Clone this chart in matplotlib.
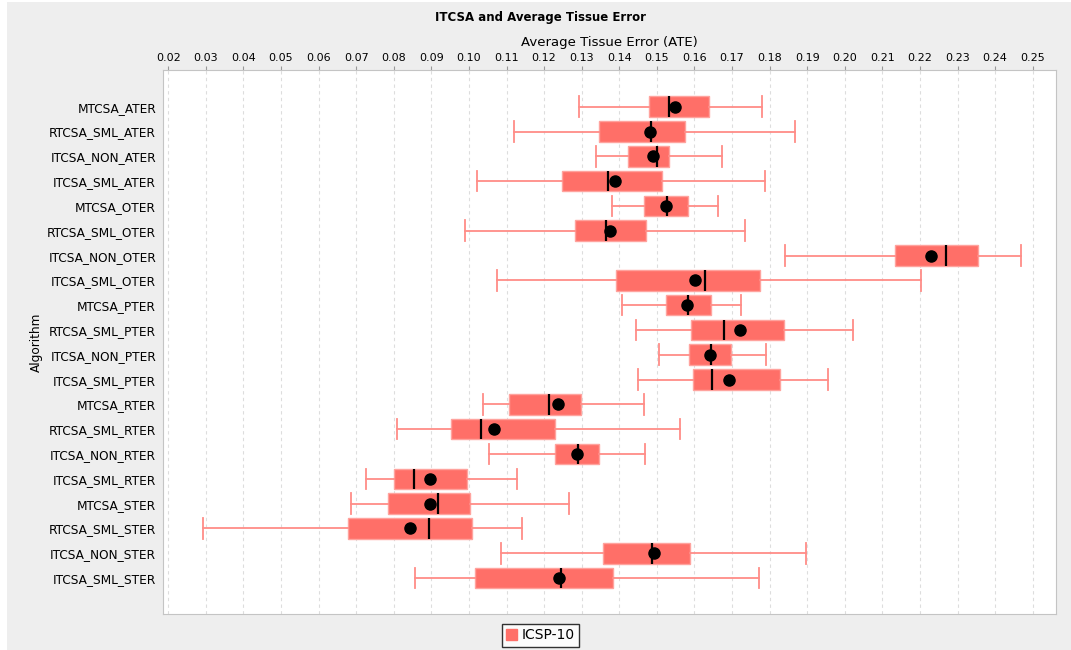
import numpy as np
import matplotlib.pyplot as plt
from matplotlib.patches import Patch, Rectangle

plt.rcParams['font.family'] = ['DejaVu Sans']

algorithms = ['MTCSA_ATER', 'RTCSA_SML_ATER', 'ITCSA_NON_ATER', 'ITCSA_SML_ATER',
              'MTCSA_OTER', 'RTCSA_SML_OTER', 'ITCSA_NON_OTER', 'ITCSA_SML_OTER',
              'MTCSA_PTER', 'RTCSA_SML_PTER', 'ITCSA_NON_PTER', 'ITCSA_SML_PTER',
              'MTCSA_RTER', 'RTCSA_SML_RTER', 'ITCSA_NON_RTER', 'ITCSA_SML_RTER',
              'MTCSA_STER', 'RTCSA_SML_STER', 'ITCSA_NON_STER', 'ITCSA_SML_STER']

whisker_low = [0.1292, 0.1121, 0.1338, 0.1021, 0.1381, 0.0990, 0.1842, 0.1074,
               0.1406, 0.1445, 0.1505, 0.1451, 0.1037, 0.0808, 0.1053, 0.0727,
               0.0685, 0.0292, 0.1084, 0.0857]
q1 = [0.1478, 0.1345, 0.1424, 0.1247, 0.1465, 0.1282, 0.2134, 0.1390,
      0.1525, 0.1591, 0.1585, 0.1595, 0.1107, 0.0952, 0.1228, 0.0801,
      0.0784, 0.0679, 0.1358, 0.1015]
median = [0.1532, 0.1485, 0.1501, 0.1369, 0.1527, 0.1365, 0.2268, 0.1628,
          0.1582, 0.1678, 0.1643, 0.1647, 0.1213, 0.1033, 0.1289, 0.0854,
          0.0919, 0.0894, 0.1486, 0.1246]
mean = [0.1549, 0.1482, 0.1491, 0.1388, 0.1523, 0.1375, 0.2230, 0.1602,
        0.1580, 0.1722, 0.1641, 0.1693, 0.1236, 0.1067, 0.1287, 0.0897,
        0.0897, 0.0842, 0.1492, 0.1239]
q3 = [0.1638, 0.1575, 0.1531, 0.1514, 0.1584, 0.1471, 0.2354, 0.1775,
      0.1644, 0.1837, 0.1698, 0.1828, 0.1297, 0.1229, 0.1347, 0.0994,
      0.1003, 0.1007, 0.1588, 0.1383]
whisker_high = [0.1779, 0.1868, 0.1672, 0.1788, 0.1662, 0.1734, 0.2470, 0.2203,
                0.1723, 0.2021, 0.1791, 0.1955, 0.1466, 0.1562, 0.1469, 0.1127,
                0.1267, 0.1142, 0.1896, 0.1773]

x_ticks = np.arange(0.02, 0.2501, 0.01)

stats = []
for i in range(len(algorithms)):
    stats.append({'label': algorithms[i], 'whislo': whisker_low[i], 'q1': q1[i],
                  'med': median[i], 'q3': q3[i], 'whishi': whisker_high[i],
                  'mean': mean[i], 'fliers': []})

box_color = '#FF6F68'
whisk_color = '#FF8C87'

fig = plt.figure(figsize=(10.71, 6.5), dpi=100, facecolor='#EEEEEE')
# thin white strips on the left and top edge
fig.patches.append(Rectangle((0, 0), 7 / 1071, 1, transform=fig.transFigure,
                             facecolor='white', edgecolor='none', zorder=-1))
fig.patches.append(Rectangle((0, 1 - 2 / 650), 1, 2 / 650, transform=fig.transFigure,
                             facecolor='white', edgecolor='none', zorder=-1))

ax = fig.add_axes([0.1522, 0.0554, 0.8338, 0.8369])

ax.bxp(stats, positions=np.arange(len(algorithms)), orientation='horizontal',
       widths=0.83, capwidths=0.83, patch_artist=True, showmeans=True, showfliers=False,
       boxprops=dict(facecolor=box_color, edgecolor='#FFA39E', linewidth=1),
       whiskerprops=dict(color=whisk_color, linewidth=1.3),
       capprops=dict(color=whisk_color, linewidth=1.3),
       medianprops=dict(color='black', linewidth=1.6),
       meanprops=dict(marker='o', markerfacecolor='black', markeredgecolor='black', markersize=8))

ax.set_ylim(20.45, -1.48)
ax.set_xlim(0.0186, 0.2562)
ax.set_xticks(x_ticks)
ax.set_xticklabels(['%.2f' % t for t in x_ticks], fontsize=8)
ax.xaxis.tick_top()
ax.xaxis.set_label_position('top')
ax.tick_params(axis='x', length=3, color='#999999', pad=2)
ax.tick_params(axis='y', length=0, labelsize=8.7, pad=5)
ax.set_xlabel('Average Tissue Error (ATE)', fontsize=9.5, labelpad=5)
ax.set_ylabel('Algorithm', fontsize=8.7, labelpad=3)
ax.grid(axis='x', linestyle=(0, (3, 3)), color='#DDDDDD', linewidth=0.8)
ax.set_axisbelow(True)
for s in ax.spines.values():
    s.set_color('#C4C4C4')

fig.text(0.505, 0.983, 'ITCSA and Average Tissue Error', ha='center', va='top',
         fontsize=8.5, fontweight='bold')

fig.legend(handles=[Patch(facecolor=box_color, edgecolor=box_color, label='ICSP-10')],
           loc='center', bbox_to_anchor=(0.5045, 0.0225), fontsize=10, frameon=True,
           fancybox=False, edgecolor='black', handlelength=0.8, handleheight=0.8,
           handletextpad=0.3, borderpad=0.3, borderaxespad=0)

fig.savefig('out.png', dpi=100, facecolor=fig.get_facecolor())
